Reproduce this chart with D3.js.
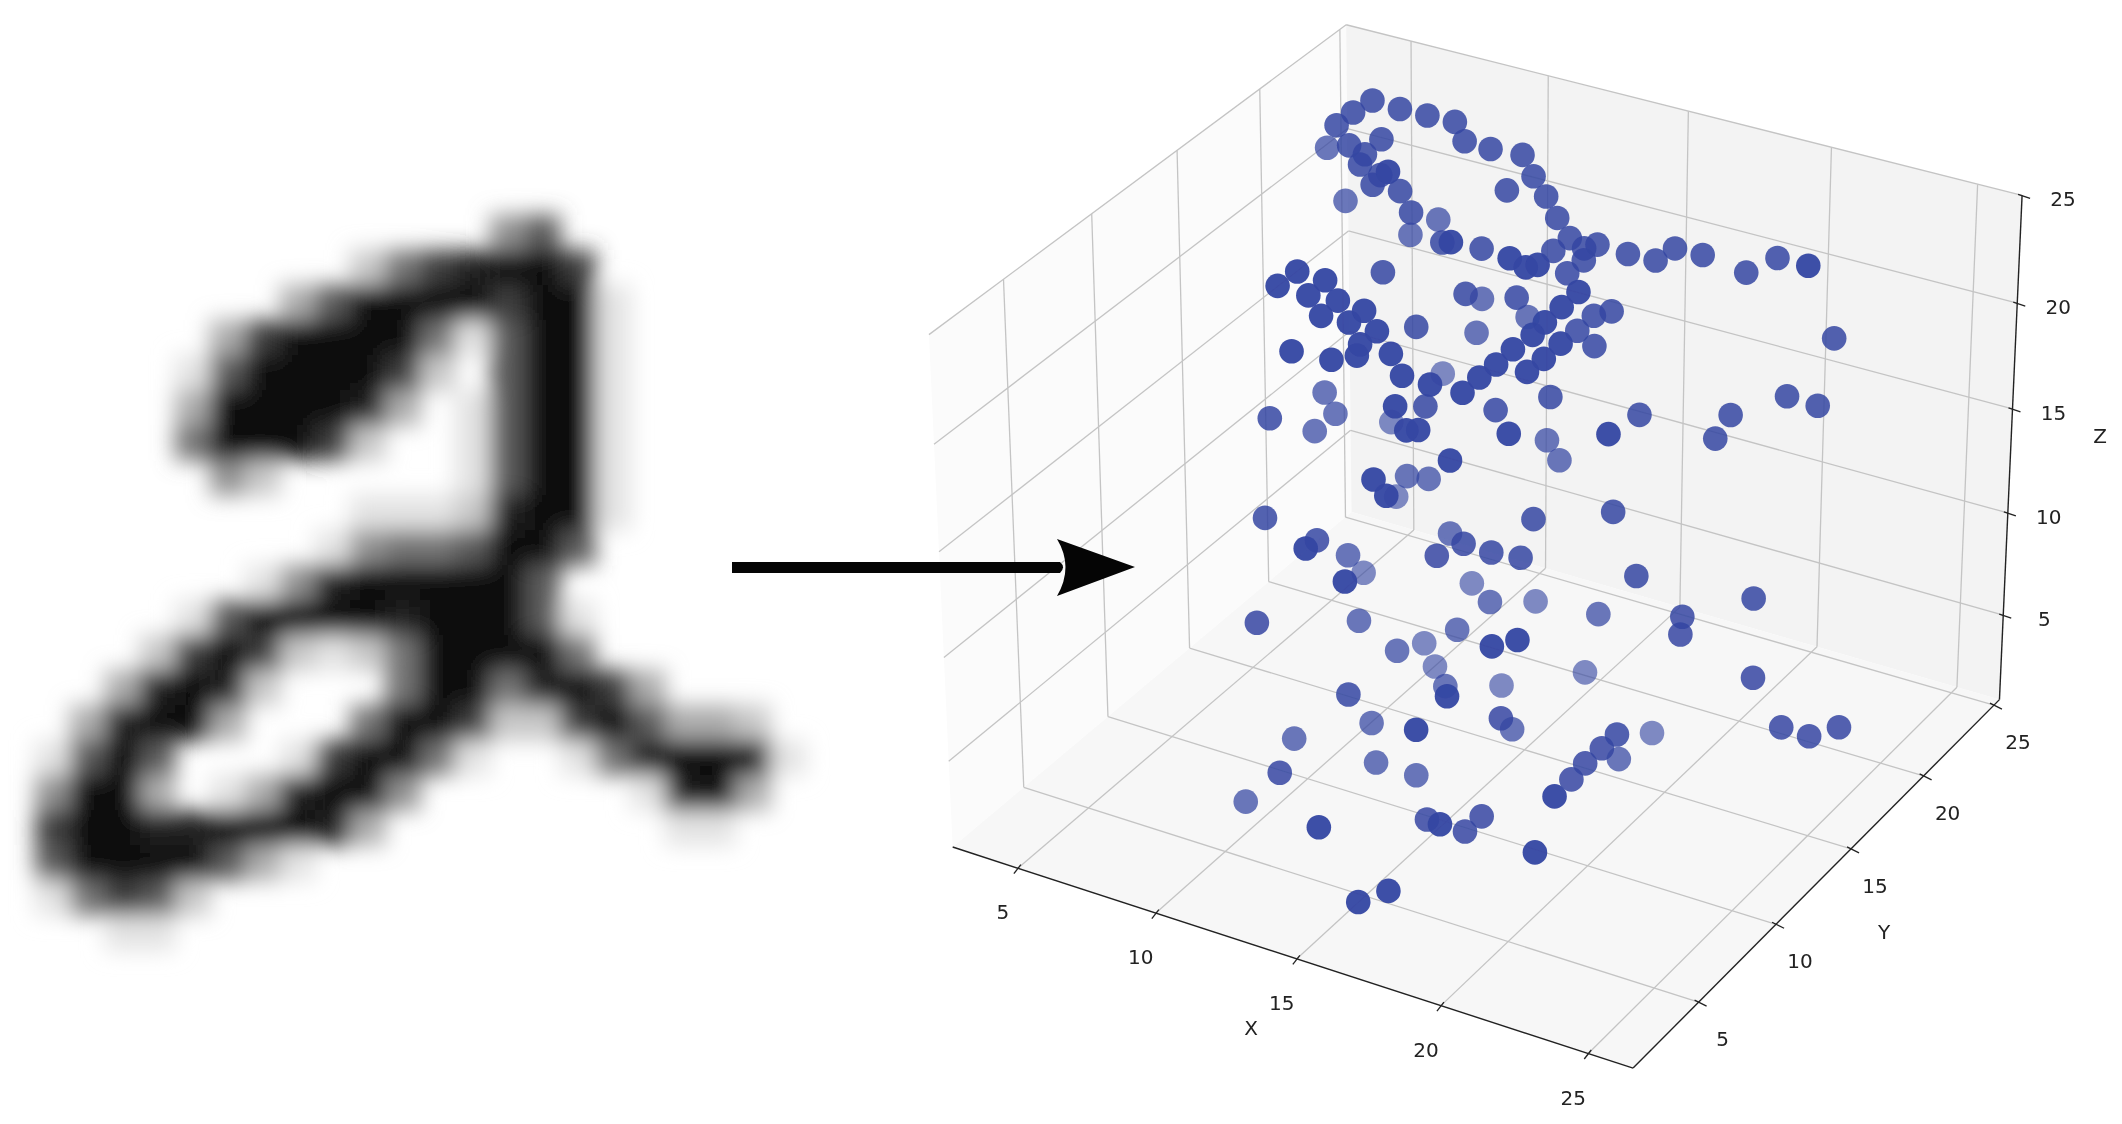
<!DOCTYPE html>
<html><head><meta charset="utf-8">
<style>html,body{margin:0;padding:0;background:#fff}svg{display:block}text{font-family:"DejaVu Sans";fill:#222}</style>
<script src="https://cdn.jsdelivr.net/npm/d3@7"></script></head><body><svg id="c" width="2122" height="1124"></svg>
<script>
// Handwritten digit: grey level 0-9 per cell
const digitRows=[
"00000000000000000000000",
"00000000000000460000000",
"00000000002578997000000",
"00000000369999799100000",
"00000037999951699100000",
"00000169999720699100000",
"00000399998301699100000",
"00000599972001699100000",
"00000042000001699100000",
"00000000001112899100000",
"00000000014556996000000",
"00000001489999960000000",
"00000169999899961000000",
"00002797212599995000000",
"00038982000599589730000",
"00389930005997227963320",
"01696000179951001589991",
"04993013899400000018930",
"07998899983000000001100",
"06999963100000000000000",
"01576200000000000000000",
"00011000000000000000000"];
const xTicks=[5,10,15,20,25],yTicks=[5,10,15,20,25],zTicks=[5,10,15,20,25];
const pointX=[8.3,9.1,9.9,10.7,7.9,7.6,8.9,11.1,11.9,12.8,6.0,8.1,8.6,8.6,10.7,9.2,9.1,13.3,13.8,12.7,
9.9,7.0,10.4,14.3,9.7,9.1,14.8,11.5,13.0,12.6,14.7,15.2,15.5,14.5,15.3,15.6,16.5,17.7,17.3,18.5,
20.5,22.5,19.8,15.4,15.1,16.8,16.5,10.2,9.3,8.9,10.1,9.8,10.6,11.4,10.3,11.1,11.9,12.6,11.6,14.0,
16.6,16.2,13.0,16.2,15.9,11.6,11.8,16.0,11.6,11.6,9.9,11.0,12.5,16.5,16.8,16.5,15.6,15.3,16.2,15.0,
13.0,9.9,13.8,14.7,8.3,15.8,22.0,22.9,13.1,12.6,14.5,8.6,8.8,18.3,20.7,9.0,13.6,13.9,16.3,8.4,
18.9,20.5,14.7,15.2,15.0,13.2,11.3,11.9,13.7,9.8,18.5,9.4,16.5,13.0,11.0,12.1,14.9,15.7,10.5,14.3,
16.5,22.7,13.4,9.7,12.7,14.7,14.6,19.7,23.0,10.2,11.4,17.7,21.3,21.4,14.1,17.8,18.4,12.0,12.7,12.5,
16.6,23.7,13.3,14.3,17.1,14.5,17.5,16.5,16.6,12.7,10.8,20.7,19.0,20.4,19.6,20.1,19.9,20.8,12.2,13.2,
14.4,10.1,24.9,25.7,26.4,15.0,16.5,18.1,17.9,17.6,20.8,17.4,16.7];
const pointY=[17.3,17.6,17.9,18.2,16.8,16.3,16.8,18.1,18.3,18.7,18.4,16.2,16.3,16.0,14.1,16.2,15.9,18.5,18.4,17.9,
16.2,17.8,16.0,18.2,18.9,18.2,18.1,16.0,13.9,16.5,14.5,14.6,14.8,17.6,18.1,18.4,18.7,19.5,19.0,19.8,
20.9,19.0,20.2,17.9,17.4,15.0,14.5,14.6,11.0,10.5,11.3,10.8,11.2,11.4,10.7,11.0,11.3,15.5,18.3,16.2,
17.5,17.1,18.7,14.0,16.6,14.2,17.6,13.6,10.8,10.6,9.6,10.1,11.1,16.6,13.9,13.4,13.1,12.6,12.9,12.1,
10.9,18.8,11.2,11.6,14.2,15.1,18.8,19.1,10.3,13.0,14.0,10.4,14.0,16.2,17.6,17.1,10.1,10.3,11.6,13.4,
13.1,17.0,16.9,16.8,10.3,8.8,14.1,14.4,8.7,16.0,14.2,8.7,12.8,13.8,9.1,6.6,11.3,11.6,11.8,10.7,
12.0,20.5,6.7,14.1,15.7,13.3,16.4,13.5,14.9,6.8,10.9,14.8,13.5,13.2,12.3,7.9,8.4,13.9,11.0,13.7,
16.0,13.6,7.0,11.2,6.4,14.4,9.0,11.5,5.4,9.4,7.9,10.5,16.0,10.1,12.7,9.6,9.1,6.4,4.7,8.8,
9.2,6.1,13.2,13.5,14.1,2.3,6.2,4.2,7.1,6.6,5.2,2.3,1.7];
const pointZ=[27.9,27.6,27.4,27.2,27.5,27.1,26.6,26.5,26.3,26.1,24.3,26.4,26.1,25.8,27.3,25.4,25.1,25.4,24.7,24.9,
24.9,22.5,24.2,24.0,21.9,21.4,23.3,23.2,25.0,23.0,24.5,24.2,24.3,22.9,23.0,23.1,22.8,23.0,22.6,22.8,
22.7,24.2,22.2,22.6,22.2,23.4,22.9,22.2,24.1,23.6,23.8,23.3,23.1,22.8,22.6,22.4,22.1,21.5,19.2,21.4,
20.9,20.8,18.6,22.4,20.3,20.4,18.1,22.0,21.7,21.3,21.5,21.2,21.4,19.8,21.7,21.2,21.5,21.0,20.8,20.6,
20.7,14.7,20.4,20.1,16.1,18.1,18.1,17.8,19.7,17.8,17.7,17.4,15.4,17.5,17.5,13.1,18.9,18.9,18.8,14.8,
18.8,16.7,14.5,13.8,17.9,17.3,13.3,13.2,16.8,10.5,14.3,14.1,14.1,11.4,13.4,15.1,13.3,13.0,10.7,12.9,
12.8,20.0,14.0,8.0,7.6,9.1,7.0,12.2,11.5,10.7,8.5,8.7,10.9,10.3,8.2,11.9,12.1,5.6,7.5,4.8,
4.6,8.9,8.4,6.3,10.3,4.2,7.6,4.9,9.2,5.1,4.6,7.1,2.6,6.6,3.9,6.1,5.6,7.1,5.8,3.8,
3.4,2.5,7.3,7.0,7.3,6.1,4.3,6.2,4.4,3.9,5.3,4.1,3.7];
const cell=35;
const [x0,x1]=[2.6,26.5],[y0,y1]=[0.9,25.4],[z0,z1]=[0.8,25];
const U=d3.scaleLinear().domain([x0,x1]).range([0,1]),V=d3.scaleLinear().domain([y0,y1]).range([0,1]),W=d3.scaleLinear().domain([z0,z1]).range([0,1]);
// Perspective camera fitted to where the box corners and ticks sit on the page
const cal=[[x0,y0,z0,954.5,844],[x1,y0,z0,1636.8,1066.5],[x1,y1,z0,1999,699],[x0,y1,z0,1348,514],[x0,y0,z1,930.5,329],[x0,y1,z1,1351,22.5],[x1,y1,z1,2022,193],
[x0,y0,z1,930.5,329],[x0,y1,z1,1351,22.5],[x0,y0,z1,930.5,329],[x0,y1,z1,1351,22.5],
[5,y0,z0,1019.7,867.5],[10,y0,z0,1157.6,912.5],[15,y0,z0,1299.5,959],[20,y0,z0,1443.6,1006],[25,y0,z0,1590.8,1052.8],
[x1,5,z0,1698,1009.6],[x1,10,z0,1772.5,927.6],[x1,15,z0,1851,849.6],[x1,20,z0,1922.7,774.7],[x1,25,z0,1993,702],
[x1,y1,20,2015,302.5],[x1,y1,15,2012,409],[x1,y1,10,2008.6,512.5],[x1,y1,5,2002,614.7],
[x0,y1,20,1351,128.6],[x0,y1,15,1351,230],[x0,y1,10,1351,330],[x0,y1,5,1351,430],
[x0,y0,20,937,439],[x0,y0,15,941,548],[x0,y0,10,947,657],[x0,y0,5,952,760],
[x0,5,z0,1017,792],[x0,10,z0,1102,718],[x0,15,z0,1188,648],[x0,20,z0,1269,580],
[x0,5,z1,996.7,284],[x0,10,z1,1087,221],[x0,15,z1,1174.5,153.6],[x0,20,z1,1259.6,91],
[x0,5,z1,996.7,284],[x0,10,z1,1087,221],[x0,15,z1,1174.5,153.6],[x0,20,z1,1259.6,91]];
function solve(A,b){const n=b.length;A=A.map((r,i)=>[...r,b[i]]);for(let i=0;i<n;i++){let m=i;for(let k=i+1;k<n;k++)if(Math.abs(A[k][i])>Math.abs(A[m][i]))m=k;[A[i],A[m]]=[A[m],A[i]];for(let k=i+1;k<n;k++){const f=A[k][i]/A[i][i];for(let j=i;j<=n;j++)A[k][j]-=f*A[i][j];}}const x=Array(n).fill(0);for(let i=n-1;i>=0;i--){let s=A[i][n];for(let j=i+1;j<n;j++)s-=A[i][j]*x[j];x[i]=s/A[i][i];}return x;}
const rowsA=[],rhs=[];cal.forEach(([X,Y,Z,sx,sy])=>{const u=U(X),v=V(Y),w=W(Z);sx/=1000;sy/=1000;rowsA.push([u,v,w,1,0,0,0,0,-sx*u,-sx*v,-sx*w]);rhs.push(sx);rowsA.push([0,0,0,0,u,v,w,1,-sy*u,-sy*v,-sy*w]);rhs.push(sy);});
const ATA=Array.from({length:11},(_,i)=>Array.from({length:11},(_,j)=>d3.sum(rowsA,r=>r[i]*r[j])));
const ATb=Array.from({length:11},(_,i)=>d3.sum(rowsA,(r,k)=>r[i]*rhs[k]));
const p=solve(ATA,ATb);
function proj(X,Y,Z){const u=U(X),v=V(Y),w=W(Z),h=p[8]*u+p[9]*v+p[10]*w+1;return[1000*(p[0]*u+p[1]*v+p[2]*w+p[3])/h,1000*(p[4]*u+p[5]*v+p[6]*w+p[7])/h];}
const dir=[-0.433,0.75,-0.5];
const depthOf=(X,Y,Z)=>dir[0]*(U(X)-.5)+dir[1]*(V(Y)-.5)+dir[2]*(W(Z)-.5);
const svg=d3.select("#c");
const defs=svg.append("defs");
defs.append("filter").attr("id","bl").attr("filterUnits","userSpaceOnUse").attr("x",-50).attr("y",100).attr("width",950).attr("height",950).append("feGaussianBlur").attr("stdDeviation",11);
defs.append("filter").attr("id","soft").attr("filterUnits","userSpaceOnUse").attr("x",900).attr("y",0).attr("width",1222).attr("height",1124).append("feGaussianBlur").attr("stdDeviation",0.5);
const gray=d3.scaleLinear().domain([0,9]).range(["#ffffff","#070707"]);
const cols=d3.scaleLinear().domain([0,1]).range([0,cell]),rows=d3.scaleLinear().domain([0,1]).range([180,180+cell]);
const cells=digitRows.flatMap((r,j)=>[...r].map((ch,i)=>({i,j,v:+ch}))).filter(d=>d.v>0);
svg.append("g").attr("filter","url(#bl)").selectAll("rect").data(cells).join("rect").attr("x",d=>cols(d.i)).attr("y",d=>rows(d.j)).attr("width",cell+.5).attr("height",cell+.5).attr("fill",d=>gray(d.v));
const g=svg.append("g").attr("filter","url(#soft)");
const poly=(a,fill)=>g.append("path").attr("d","M"+a.map(q=>proj(...q).join(",")).join("L")+"Z").attr("fill",fill);
poly([[x0,y0,z0],[x0,y1,z0],[x0,y1,z1],[x0,y0,z1]],"#fbfbfb");
poly([[x0,y1,z0],[x1,y1,z0],[x1,y1,z1],[x0,y1,z1]],"#f3f3f3");
poly([[x0,y0,z0],[x1,y0,z0],[x1,y1,z0],[x0,y1,z0]],"#f7f7f7");
const line=(a,b,c="#c4c4c4",w=1.3)=>{const P=proj(...a),Q=proj(...b);g.append("line").attr("x1",P[0]).attr("y1",P[1]).attr("x2",Q[0]).attr("y2",Q[1]).attr("stroke",c).attr("stroke-width",w);};
xTicks.forEach(x=>{line([x,y0,z0],[x,y1,z0]);line([x,y1,z0],[x,y1,z1]);});
yTicks.forEach(y=>{line([x0,y,z0],[x1,y,z0]);line([x0,y,z0],[x0,y,z1]);});
zTicks.forEach(z=>{line([x0,y0,z],[x0,y1,z]);line([x0,y1,z],[x1,y1,z]);});
line([x0,y0,z0],[x1,y0,z0],"#222",1.4);line([x1,y0,z0],[x1,y1,z0],"#222",1.4);line([x1,y1,z0],[x1,y1,z1],"#222",1.4);
const tick=(P,a,b)=>g.append("line").attr("x1",P[0]+a[0]).attr("y1",P[1]+a[1]).attr("x2",P[0]+b[0]).attr("y2",P[1]+b[1]).attr("stroke","#222").attr("stroke-width",1.3);
const lab=(x,y,t)=>g.append("text").attr("x",x).attr("y",y).attr("text-anchor","middle").attr("dominant-baseline","central").attr("font-size",20).text(t);
xTicks.forEach(x=>{const P=proj(x,y0,z0);tick(P,[3,-3.5],[-4,5.5]);lab(P[0]-15,P[1]+44,x);});
yTicks.forEach(y=>{const P=proj(x1,y,z0);tick(P,[-4,-2],[8,4]);lab(P[0]+24,P[1]+37,y);});
zTicks.forEach(z=>{const P=proj(x1,y1,z);tick(P,[-4,-1],[8,3]);lab(P[0]+41,P[1]+4,z);});
lab(1251,1028,"X");lab(1884,932,"Y");lab(2100,436,"Z");
const alpha=d3.scaleLinear().domain([-0.2,0.22]).range([0.95,0.62]).clamp(true);
const data=pointX.map((x,i)=>{const q=[x,pointY[i],pointZ[i]];return{q,d:depthOf(...q)};}).sort((a,b)=>b.d-a.d);
g.selectAll("circle").data(data).join("circle").attr("cx",d=>proj(...d.q)[0]).attr("cy",d=>proj(...d.q)[1]).attr("r",12.3).attr("fill","#3446a2").attr("fill-opacity",d=>alpha(d.d));
svg.append("path").attr("d","M732 562H1060Q1066 567 1060 573H732Z").attr("fill","#050505");
svg.append("path").attr("d","M1057 539L1135 567L1057 596Q1074 567 1057 539Z").attr("fill","#050505");
</script></body></html>
